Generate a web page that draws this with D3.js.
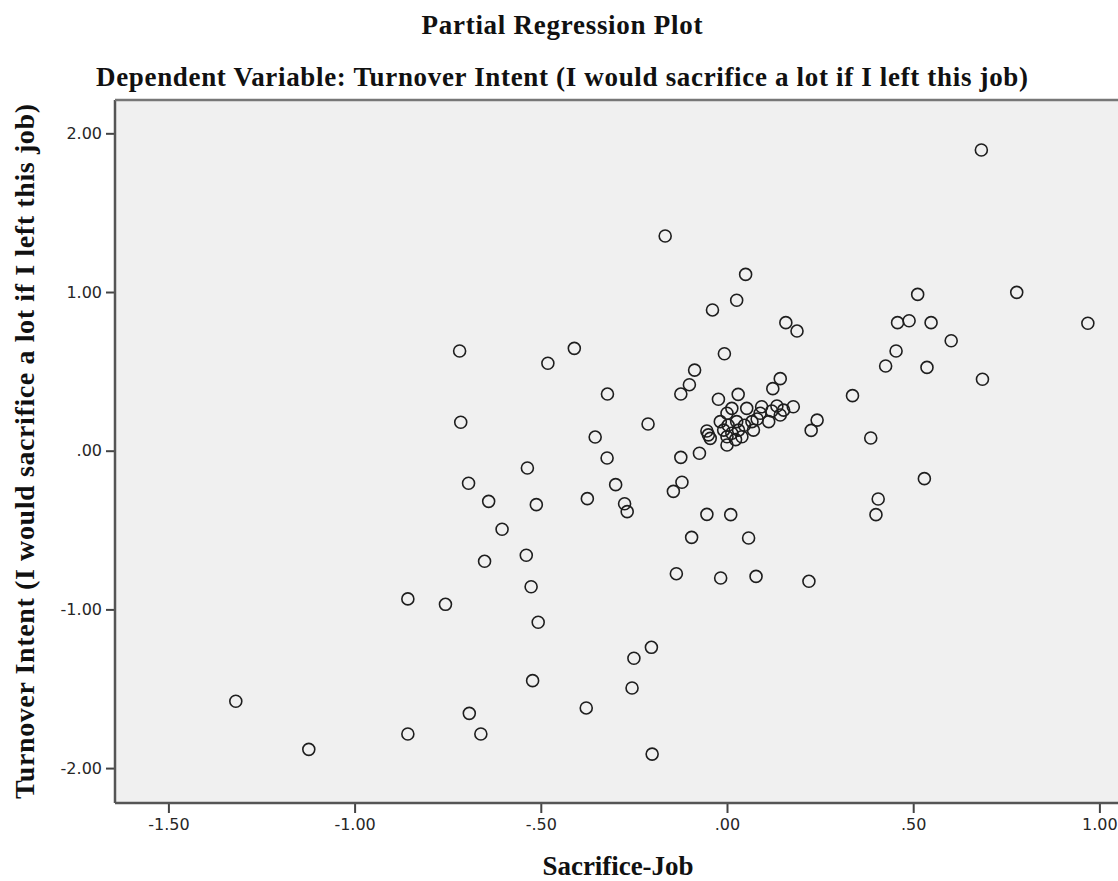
<!DOCTYPE html>
<html>
<head>
<meta charset="utf-8">
<script src="https://cdn.jsdelivr.net/npm/d3@7"></script>
<style>
  html, body { margin: 0; padding: 0; background: #ffffff; }
  svg { display: block; }
</style>
</head>
<body>
<svg id="chart" width="1118" height="881"></svg>
<script>
// ---- Data (partial residuals) ----
const sacrificeJob = [
  0.683, 0.050, 0.026, -0.039, 0.512, 0.778, 0.969, 0.158, 0.188, 0.458,
  0.489, 0.548, 0.602, 0.454, 0.426, 0.537, 0.686, 0.337, 0.386, 0.530,
  0.406, 0.400, -0.007, 0.143, 0.123, 0.242, 0.226, -0.054, 0.010, 0.058,
  -0.017, 0.078, 0.220,
  -0.166, -0.087, -0.101, -0.124, -0.124, -0.074,
  -0.718, -0.410, -0.481, -0.321, -0.715, -0.212, -0.354, -0.322, -0.536, -0.694,
  -0.299, -0.121, -0.144, -0.640, -0.512, -0.375, -0.275, -0.268, -0.604, -0.095,
  -0.651, -0.539, -0.136, -0.526, -0.756, -0.507, -0.203, -0.250,
  -0.857, -0.522, -1.319, -0.692, -0.857, -0.661, -1.123,
  -0.378, -0.255, -0.201,
  -0.023, 0.030, 0.013, 0.000, 0.053, 0.093, 0.134, 0.178, 0.152, 0.143,
  0.112, 0.071, 0.067, 0.026, -0.018, -0.054, -0.045, 0.000, 0.000, 0.040,
  0.031, 0.089, -0.009, 0.013, 0.047, 0.023, 0.081, 0.120, 0.003, -0.050
];
const turnoverIntent = [
  1.895, 1.111, 0.948, 0.887, 0.985, 0.998, 0.803, 0.807, 0.754, 0.807,
  0.819, 0.807, 0.693, 0.628, 0.534, 0.525, 0.450, 0.347, 0.080, -0.176,
  -0.304, -0.403, 0.611, 0.454, 0.391, 0.193, 0.128, -0.401, -0.403, -0.550,
  -0.802, -0.792, -0.823,
  1.353, 0.508, 0.416, 0.357, -0.042, -0.016,
  0.628, 0.645, 0.551, 0.357, 0.179, 0.168, 0.086, -0.046, -0.109, -0.205,
  -0.214, -0.199, -0.256, -0.319, -0.340, -0.302, -0.334, -0.384, -0.495, -0.546,
  -0.697, -0.659, -0.775, -0.857, -0.968, -1.081, -1.239, -1.308,
  -0.934, -1.449, -1.579, -1.655, -1.785, -1.785, -1.882,
  -1.621, -1.495, -1.912,
  0.324, 0.355, 0.267, 0.236, 0.267, 0.277, 0.282, 0.277, 0.256, 0.225,
  0.183, 0.130, 0.183, 0.183, 0.183, 0.124, 0.078, 0.088, 0.036, 0.088,
  0.130, 0.236, 0.130, 0.110, 0.160, 0.070, 0.200, 0.250, 0.160, 0.100
];
const xTicks = [-1.5, -1.0, -0.5, 0.0, 0.5, 1.0];
const yTicks = [-2.0, -1.0, 0.0, 1.0, 2.0];
const xDomain = [-1.6434, 1.058];
const yDomain = [-2.220, 2.210];

const titleText = "Partial Regression Plot";
const subtitleText = "Dependent Variable: Turnover Intent (I would sacrifice a lot if I left this job)";
const xLabel = "Sacrifice-Job";
const yLabel = "Turnover Intent (I would sacrifice a lot if I left this job)";

// ---- Layout ----
const plot = { left: 115, top: 100, right: 1121, bottom: 803 };
const svg = d3.select("#chart");

const x = d3.scaleLinear().domain(xDomain).range([plot.left, plot.right]);
const y = d3.scaleLinear().domain(yDomain).range([plot.bottom, plot.top]);

const fmt = v => {
  let s = Math.abs(v).toFixed(2);
  if (s.startsWith("0")) s = s.slice(1);
  return (v < 0 ? "-" : "") + s;
};

// background
svg.append("rect")
  .attr("x", plot.left).attr("y", plot.top)
  .attr("width", plot.right - plot.left).attr("height", plot.bottom - plot.top)
  .attr("fill", "#f0f0f0");

svg.append("defs").append("clipPath").attr("id", "clip")
  .append("rect")
  .attr("x", plot.left).attr("y", plot.top)
  .attr("width", plot.right - plot.left).attr("height", plot.bottom - plot.top);

// points
svg.append("g").attr("clip-path", "url(#clip)")
  .selectAll("circle")
  .data(d3.range(sacrificeJob.length))
  .join("circle")
  .attr("cx", i => x(sacrificeJob[i]))
  .attr("cy", i => y(turnoverIntent[i]))
  .attr("r", 6)
  .attr("fill", "none")
  .attr("stroke", "#1e1e1e")
  .attr("stroke-width", 1.6);

// axes
const xAxis = d3.axisBottom(x).tickValues(xTicks).tickFormat(fmt).tickSize(10).tickSizeOuter(0).tickPadding(6);
const yAxis = d3.axisLeft(y).tickValues(yTicks).tickFormat(fmt).tickSize(9).tickSizeOuter(0).tickPadding(4);

const gx = svg.append("g").attr("transform", `translate(0,${plot.bottom})`).call(xAxis);
const gy = svg.append("g").attr("transform", `translate(${plot.left},0)`).call(yAxis);

[gx, gy].forEach(g => {
  g.select(".domain").remove();
  g.selectAll(".tick line").attr("stroke", "#444").attr("stroke-width", 2);
  g.selectAll(".tick text")
    .attr("fill", "#262626")
    .style("font-family", "'DejaVu Sans', sans-serif")
    .style("font-size", "16px");
});

// frame lines (left, bottom, top)
const frame = svg.append("g").attr("stroke", "#555").attr("stroke-width", 2.5).attr("fill", "none");
frame.append("line").attr("x1", plot.left).attr("x2", plot.left).attr("y1", plot.top).attr("y2", plot.bottom);
frame.append("line").attr("x1", plot.left).attr("x2", plot.right).attr("y1", plot.bottom).attr("y2", plot.bottom);
frame.append("line").attr("x1", plot.left).attr("x2", plot.right).attr("y1", plot.top).attr("y2", plot.top)
  .attr("stroke", "#777");

// titles
const serif = "'Liberation Serif', 'Times New Roman', serif";
function label(sel, len, size) {
  return sel.style("font-family", serif).style("font-weight", "bold").style("font-size", size + "px")
    .attr("fill", "#111").attr("textLength", len).attr("lengthAdjust", "spacing");
}
label(svg.append("text").attr("x", 562).attr("y", 34).attr("text-anchor", "middle"), 281, 27).text(titleText);
label(svg.append("text").attr("x", 562).attr("y", 86).attr("text-anchor", "middle"), 932, 27).text(subtitleText);
label(svg.append("text").attr("x", (plot.left + plot.right) / 2).attr("y", 875).attr("text-anchor", "middle"), 151, 27).text(xLabel);
label(svg.append("text")
  .attr("transform", `translate(34,${(plot.top + plot.bottom) / 2}) rotate(-90)`)
  .attr("text-anchor", "middle"), 695, 28).text(yLabel);
</script>
</body>
</html>
